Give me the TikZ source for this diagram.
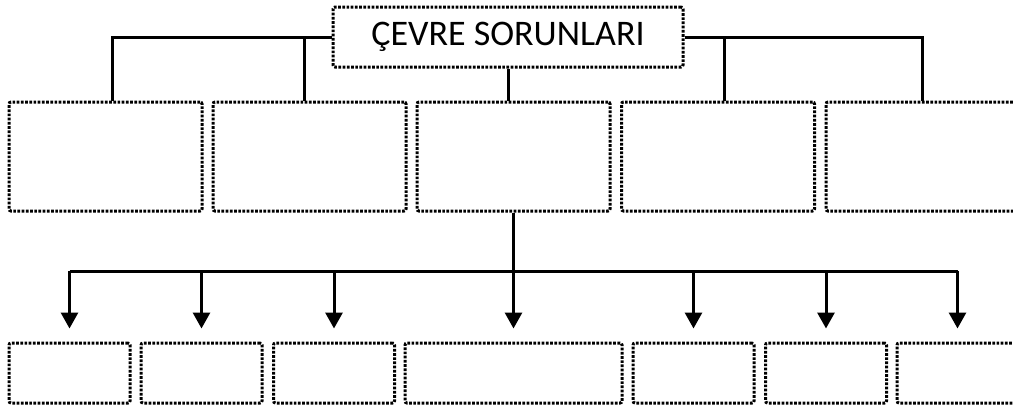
\documentclass[tikz,border=0pt]{standalone}
\usepackage{fontspec}
\setmainfont{Carlito}
\usetikzlibrary{arrows.meta}
\tikzset{
  dotbox/.style={draw=black, line width=3pt, dash pattern=on 2.7pt off 1.5pt, rounded corners=2pt, inner sep=0pt},
  bigbox/.style={dotbox, minimum width=193pt, minimum height=109pt},
  smallbox/.style={dotbox, minimum width=121pt, minimum height=60pt},
  conn/.style={draw=black, line width=3pt},
  arr/.style={conn, -{Triangle[length=16pt,width=17pt]}}
}
\begin{document}
\begin{tikzpicture}[x=1pt,y=-1pt]
\useasboundingbox (0,0) rectangle (1013,408);
\clip (0,0) rectangle (1013,408);
% top
\node[dotbox, minimum width=350pt, minimum height=60pt, font=\fontsize{36}{42}\selectfont] (top) at (508,37) {ÇEVRE SORUNLARI};
% row 1
\node[bigbox] (b1) at (105.5,156.5) {};
\node[bigbox] (b2) at (309.5,156.5) {};
\node[bigbox] (b3) at (513.5,156.5) {};
\node[bigbox] (b4) at (718,156.5) {};
\node[bigbox] (b5) at (922.5,156.5) {};
% row 2
\node[smallbox] (l1) at (69.5,373) {};
\node[smallbox] (l2) at (201.5,373) {};
\node[smallbox] (l3) at (334,373) {};
\node[smallbox, minimum width=217pt] (l4) at (513.5,373) {};
\node[smallbox] (l5) at (693.5,373) {};
\node[smallbox] (l6) at (826,373) {};
\node[smallbox] (l7) at (957.5,373) {};
% connectors from top
\draw[conn] (top.west) -| ([xshift=6.5pt]b1.north);
\draw[conn] (top.west -| b2.north) ++(-5.5pt,0) -- ([xshift=-5.5pt]b2.north);
\draw[conn] (top.east) -| (b5.north);
\draw[conn] (top.east -| b4.north) ++(6pt,0) -- ([xshift=6pt]b4.north);
\draw[conn] (top.south) -- (top.south |- b3.north);
% bus
\coordinate (bus) at (513,271);
\draw[conn] ([xshift=-0.5pt]b3.south) -- (bus);
\draw[conn] (l1.north |- bus) -- (l7.north |- bus);
\foreach \n in {l1,l2,l3,l4,l5,l6,l7}{
  \draw[arr] (\n.north |- bus) -- ([yshift=13pt]\n.north);
}
\end{tikzpicture}
\end{document}
